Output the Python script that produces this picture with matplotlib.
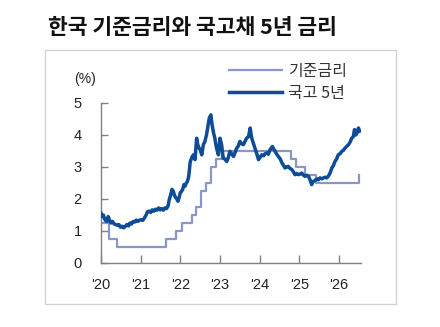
import matplotlib
matplotlib.use("Agg")
import matplotlib.pyplot as plt
from matplotlib.patches import Rectangle

plt.rcParams['font.family'] = ['Liberation Sans', 'Noto Sans CJK KR', 'DejaVu Sans']

# ---- data ----
title = "한국 기준금리와 국고채 5년 금리"
series_names = ["기준금리", "국고 5년"]
unit_label = "(%)"

# policy rate step changes (decimal year, level)
base_dates = [2020.00, 2020.20, 2020.41, 2021.65, 2021.90, 2022.04, 2022.29, 2022.40,
              2022.53, 2022.65, 2022.78, 2022.90, 2023.04, 2024.78, 2024.91, 2025.15,
              2025.41, 2026.50, 2026.51]
base_rate = [1.25, 0.75, 0.50, 0.75, 1.00, 1.25, 1.50, 1.75,
             2.25, 2.50, 3.00, 3.25, 3.50, 3.25, 3.00, 2.75,
             2.50, 2.50, 2.75]

# 5-year treasury yield (decimal year, %)
bond_dates = [2020.00, 2020.03, 2020.06, 2020.09, 2020.12, 2020.15, 2020.18, 2020.21,
              2020.25, 2020.29, 2020.33, 2020.37, 2020.41, 2020.45, 2020.49, 2020.53,
              2020.57, 2020.61, 2020.65, 2020.69, 2020.73, 2020.77, 2020.81, 2020.85,
              2020.89, 2020.93, 2020.97, 2021.01, 2021.05, 2021.09, 2021.13, 2021.17,
              2021.21, 2021.25, 2021.29, 2021.33, 2021.37, 2021.41, 2021.45, 2021.49,
              2021.53, 2021.57, 2021.61, 2021.65, 2021.69, 2021.72, 2021.75, 2021.79,
              2021.82, 2021.85, 2021.88, 2021.91, 2021.94, 2021.97, 2022.00, 2022.03,
              2022.06, 2022.09, 2022.12, 2022.15, 2022.18, 2022.21, 2022.25, 2022.29,
              2022.33, 2022.37, 2022.41, 2022.44, 2022.47, 2022.50, 2022.54, 2022.58,
              2022.62, 2022.66, 2022.70, 2022.73, 2022.77, 2022.80, 2022.84, 2022.87,
              2022.91, 2022.96, 2023.00, 2023.04, 2023.08, 2023.12, 2023.17, 2023.21,
              2023.25, 2023.30, 2023.34, 2023.38, 2023.42, 2023.46, 2023.50, 2023.55,
              2023.59, 2023.63, 2023.67, 2023.72, 2023.76, 2023.80, 2023.84, 2023.88,
              2023.93, 2023.97, 2024.01, 2024.05, 2024.10, 2024.14, 2024.18, 2024.22,
              2024.26, 2024.32, 2024.36, 2024.39, 2024.43, 2024.47, 2024.52, 2024.56,
              2024.60, 2024.64, 2024.68, 2024.72, 2024.77, 2024.81, 2024.85, 2024.89,
              2024.93, 2024.97, 2025.02, 2025.06, 2025.10, 2025.14, 2025.19, 2025.23,
              2025.27, 2025.31, 2025.35, 2025.40, 2025.44, 2025.48, 2025.52, 2025.57,
              2025.61, 2025.65, 2025.69, 2025.73, 2025.77, 2025.82, 2025.86, 2025.90,
              2025.94, 2025.98, 2026.03, 2026.07, 2026.11, 2026.15, 2026.20, 2026.24,
              2026.28, 2026.32, 2026.36, 2026.39, 2026.42, 2026.45, 2026.49, 2026.52]
bond_yield = [1.55, 1.45, 1.50, 1.38, 1.32, 1.30, 1.45, 1.35,
              1.25, 1.30, 1.22, 1.20, 1.18, 1.20, 1.12, 1.15,
              1.10, 1.14, 1.20, 1.16, 1.25, 1.22, 1.30, 1.28,
              1.34, 1.30, 1.34, 1.35, 1.33, 1.40, 1.48, 1.60,
              1.62, 1.58, 1.66, 1.62, 1.68, 1.65, 1.72, 1.66,
              1.70, 1.65, 1.72, 1.70, 1.78, 1.98, 2.10, 2.30,
              2.25, 2.12, 2.05, 2.00, 1.93, 2.05, 2.20, 2.24,
              2.30, 2.45, 2.40, 2.50, 2.55, 2.70, 3.17, 3.30,
              3.38, 3.23, 3.90, 3.70, 3.59, 3.55, 3.38, 3.70,
              3.80, 4.01, 4.30, 4.53, 4.63, 4.32, 4.05, 3.90,
              3.60, 3.38, 3.90, 3.70, 3.28, 3.25, 3.17, 3.30,
              3.49, 3.40, 3.33, 3.45, 3.59, 3.65, 3.80, 3.72,
              3.70, 3.80, 3.90, 3.95, 4.22, 3.90, 3.75, 3.59,
              3.40, 3.23, 3.30, 3.38, 3.35, 3.42, 3.44, 3.40,
              3.54, 3.64, 3.55, 3.49, 3.40, 3.33, 3.25, 3.13,
              3.05, 2.97, 3.00, 3.02, 2.95, 2.92, 2.85, 2.76,
              2.80, 2.76, 2.78, 2.81, 2.75, 2.71, 2.74, 2.71,
              2.60, 2.45, 2.55, 2.58, 2.63, 2.60, 2.66, 2.63,
              2.66, 2.68, 2.66, 2.71, 2.80, 2.97, 3.05, 3.18,
              3.25, 3.38, 3.42, 3.49, 3.52, 3.59, 3.65, 3.70,
              3.78, 3.90, 3.95, 4.17, 4.00, 4.06, 4.22, 4.12]

year_ticks = [2020, 2021, 2022, 2023, 2024, 2025, 2026]
year_labels = ["'20", "'21", "'22", "'23", "'24", "'25", "'26"]
y_ticks = [0, 1, 2, 3, 4, 5]

# ---- style ----
W, H = 440, 327
base_color = "#8697C8"
bond_color = "#0E4C97"
text_color = "#222222"
axis_color = "#808080"

fig = plt.figure(figsize=(W / 100, H / 100), dpi=100)
fig.patch.set_facecolor("white")

# outer gray frame
fig.add_artist(Rectangle((45 / W, 1 - 304 / H), (396 - 45) / W, (304 - 50) / H,
                         transform=fig.transFigure, fill=False,
                         edgecolor="#D3D3D3", linewidth=1.0))

ax = fig.add_axes([101 / W, 1 - 263 / H, (361 - 101) / W, (263 - 103) / H])
ax.step(base_dates, base_rate, where="post", color=base_color, lw=1.6,
        label=series_names[0], zorder=2)
ax.plot(bond_dates, bond_yield, color=bond_color, lw=2.5,
        label=series_names[1], zorder=3)

ax.set_xlim(2020, 2020 + (361 - 101) / 39.67)
ax.set_ylim(0, 5)
ax.set_xticks(year_ticks)
ax.set_xticklabels(year_labels)
ax.set_yticks(y_ticks)
for s in ["top", "right"]:
    ax.spines[s].set_visible(False)
for s in ["left", "bottom"]:
    ax.spines[s].set_color(axis_color)
    ax.spines[s].set_linewidth(1.0)
ax.tick_params(axis="x", direction="in", length=6, width=1, color=axis_color,
               labelsize=10.5, labelcolor=text_color, pad=11)
ax.tick_params(axis="y", direction="in", length=5, width=1, color=axis_color,
               labelsize=10.5, labelcolor=text_color, pad=14)
ax.patch.set_alpha(0)

fig.text(85 / W, 1 - 79 / H, unit_label, ha="center", va="center",
         fontsize=10, color=text_color)

fig.text(48 / W, 1 - 28 / H, title, ha="left", va="center", fontsize=15.5,
         fontweight="bold", color="#111111",
         family=["Noto Sans CJK KR", "DejaVu Sans"])

leg = ax.legend(loc="upper left", bbox_to_anchor=(229 / W, 1 - 63 / H),
                bbox_transform=fig.transFigure, frameon=False,
                prop={"family": ["Noto Sans CJK KR", "DejaVu Sans"], "size": 11.5},
                handlelength=3.3, handletextpad=0.4, labelspacing=0.3,
                borderpad=0, borderaxespad=0)
for t in leg.get_texts():
    t.set_color("#333333")

fig.savefig("out.png", dpi=100, facecolor="white")
